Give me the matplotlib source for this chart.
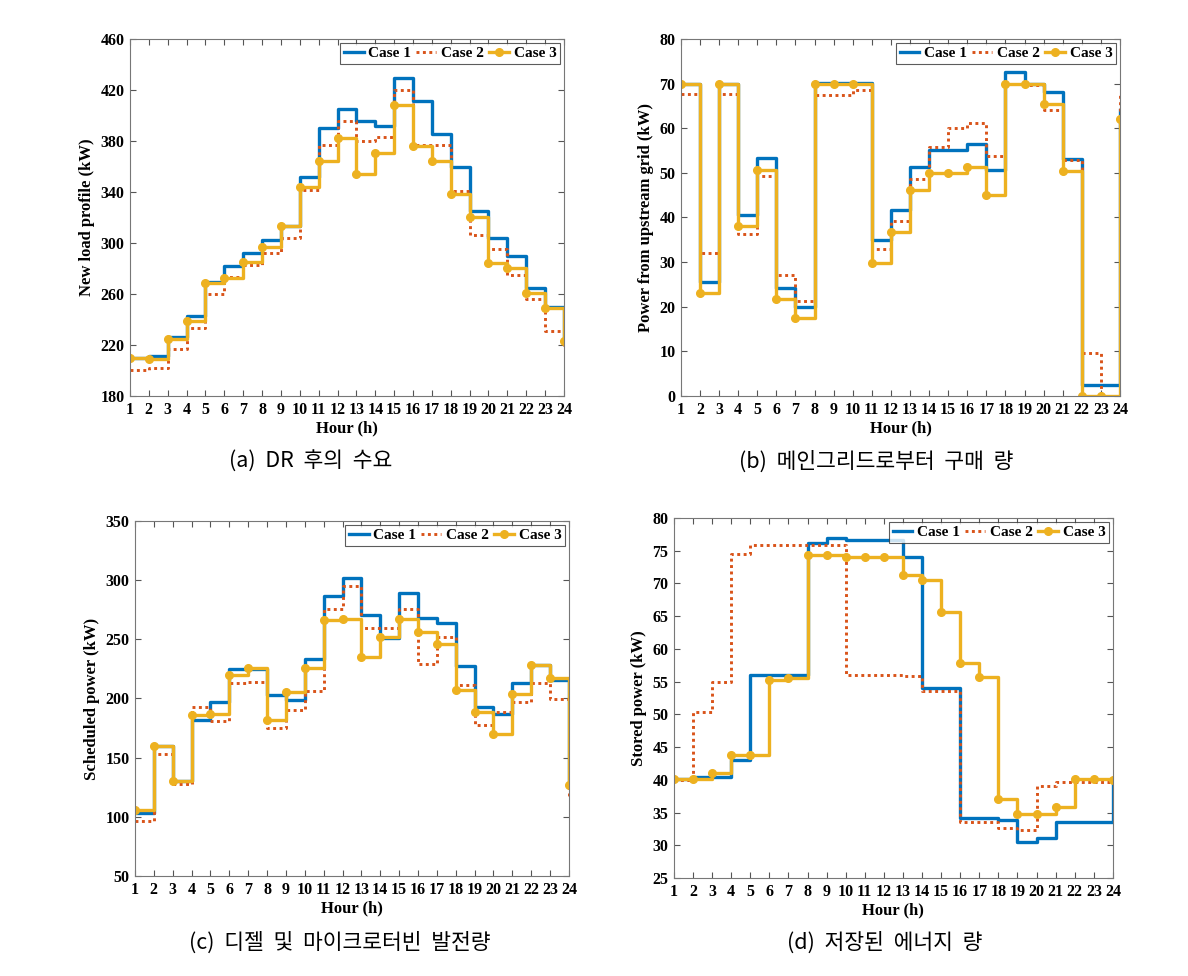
import matplotlib
matplotlib.use("Agg")
import matplotlib.pyplot as plt
import numpy as np

hours = np.arange(1, 25)

# (a) new load profile after DR
load_c1 = [210, 211, 226.6, 243, 269, 282, 292.4, 302.6, 313.6, 352, 390, 405,
           396, 391.6, 429.6, 411.3, 385.6, 359.7, 325.4, 304.2, 290, 265, 249.7, 222]
load_c2 = [200.7, 201.8, 216.7, 233.2, 259.9, 273.3, 283, 292.1, 303.6, 341.6, 376.5, 395.8,
           379.9, 383, 420.2, 377, 377, 341.1, 306.5, 295.3, 274.8, 256.2, 231.1, 219]
load_c3 = [210, 209, 225, 239, 268.8, 272.5, 285, 296.8, 313, 343.5, 364.1, 382.2,
           353.7, 370.4, 407.9, 376.2, 364.1, 338.2, 320.1, 284.4, 280.3, 260.4, 248.9, 223]

# (b) power from upstream grid
grid_c1 = [70, 25.5, 70, 40.5, 53.3, 24.3, 20, 70.2, 70.2, 70.2, 34.9, 41.7,
           51.2, 55.1, 55.1, 56.4, 50.7, 72.6, 70, 68.1, 53.2, 2.5, 2.5, 64]
grid_c2 = [67.6, 32, 67.6, 36.3, 49.2, 27.1, 21.3, 67.5, 67.5, 68.5, 33, 39.3,
           48.6, 55.7, 60, 61.1, 53.7, 70, 69.7, 64, 52.8, 9.7, 0, 68]
grid_c3 = [70, 23.1, 70, 38, 50.7, 21.7, 17.5, 70, 70, 70, 29.9, 36.8,
           46.1, 50, 50, 51.3, 45, 70, 70, 65.5, 50.5, 0, 0, 62]

# (c) diesel + microturbine
gen_c1 = [103.5, 159.5, 130, 181.4, 197.2, 224.8, 225, 203.1, 198.3, 233.5, 286.7, 301.9,
          270.6, 251.2, 289.5, 268.1, 263.9, 227.6, 192.4, 186.8, 213.2, 228.7, 215.2, 125]
gen_c2 = [96.7, 153, 127.4, 192.4, 180.9, 212.7, 214.1, 175.3, 190.4, 205.9, 275.4, 295.1,
          259.7, 259.7, 275.7, 229.3, 251.8, 211.8, 177.2, 188.2, 196.9, 212.7, 199.7, 117.3]
gen_c3 = [105.7, 159.5, 130, 186, 186.8, 219.7, 225.6, 181.4, 205.1, 225.6, 266.1, 267.5,
          235.2, 252.1, 267.3, 256.6, 246.2, 206.8, 188.5, 169.9, 204.2, 227.9, 217.7, 126.6]

# (d) stored energy
sto_c1 = [40.2, 40.4, 40.5, 43, 56, 56, 56, 76.1, 76.9, 76.6, 76.6, 76.6,
          74, 54.1, 54.1, 34.2, 34.1, 33.9, 30.5, 31.1, 33.5, 33.5, 33.5, 40.2]
sto_c2 = [40, 50.3, 55, 74.5, 75.9, 75.9, 75.9, 75.9, 75.9, 56, 56, 56,
          55.9, 53.5, 53.5, 33.6, 33.6, 32.7, 32.4, 39.1, 39.6, 39.6, 39.6, 39.6]
sto_c3 = [40.2, 40.2, 41.1, 43.8, 43.8, 55.2, 55.6, 74.4, 74.4, 74.1, 74, 74,
          71.3, 70.5, 65.7, 57.9, 55.7, 37.1, 34.8, 34.8, 35.9, 40.1, 40.1, 40]

case_labels = ["Case 1", "Case 2", "Case 3"]

plt.rcParams['font.family'] = ['Liberation Serif', 'DejaVu Serif']

fig = plt.figure(figsize=(11.88, 9.76), dpi=100)

panels = [
    ([0.1094, 0.5943, 0.3653, 0.3658], (load_c1, load_c2, load_c3), "New load profile (kW)",
     np.arange(180, 461, 40), (180, 460), "(a)  DR  후의  수요", (311, 462)),
    ([0.5732, 0.5943, 0.3695, 0.3658], (grid_c1, grid_c2, grid_c3), "Power from upstream grid (kW)",
     np.arange(0, 81, 10), (0, 80), "(b)  메인그리드로부터  구매  량", (876, 462)),
    ([0.1136, 0.1025, 0.3653, 0.3637], (gen_c1, gen_c2, gen_c3), "Scheduled power (kW)",
     np.arange(50, 351, 50), (50, 350), "(c)  디젤  및  마이크로터빈  발전량", (340, 943)),
    ([0.5673, 0.1004, 0.3695, 0.3689], (sto_c1, sto_c2, sto_c3), "Stored power (kW)",
     np.arange(25, 81, 5), (25, 80), "(d)  저장된  에너지  량", (885, 943)),
]

for rect, (c1, c2, c3), ylab, yt, ylim, cap, cpos in panels:
    ax = fig.add_axes(rect)
    ax.plot(hours, c1, drawstyle='steps-post', color='#0072BD', lw=2.4, label=case_labels[0])
    ax.plot(hours, c2, drawstyle='steps-post', color='#D95319', lw=2.1, ls=(0, (1, 1.2)),
            label=case_labels[1])
    ax.plot(hours, c3, drawstyle='steps-post', color='#EDB120', lw=2.4, marker='o', ms=5.5,
            label=case_labels[2])
    ax.set_xlim(1, 24)
    ax.set_ylim(*ylim)
    ax.set_xticks(hours)
    ax.set_yticks(yt)
    ax.tick_params(direction='in', top=True, right=True, length=4, color='#555555',
                   labelsize=11.5, pad=4)
    for lab in ax.get_xticklabels() + ax.get_yticklabels():
        lab.set_fontweight('bold')
    for sp in ax.spines.values():
        sp.set_color('#777777')
        sp.set_linewidth(0.8)
    ax.set_ylabel(ylab, fontsize=12, fontweight='bold', labelpad=4)
    ax.set_xlabel("Hour (h)", fontsize=12, fontweight='bold', labelpad=2)
    leg = ax.legend(loc='upper right', ncol=3, frameon=True, fancybox=False,
                    handlelength=1.3, handletextpad=0.3, columnspacing=0.35,
                    borderpad=0.25, borderaxespad=0.25, prop={'weight': 'bold', 'size': 11})
    leg.get_frame().set_edgecolor('#333333')
    leg.get_frame().set_linewidth(0.8)
    fig.text(cpos[0] / 1188, 1 - cpos[1] / 976, cap, ha='center', va='center', fontsize=15.5,
             family=['Noto Sans CJK KR', 'DejaVu Sans'])

fig.savefig("out.png", dpi=100)
